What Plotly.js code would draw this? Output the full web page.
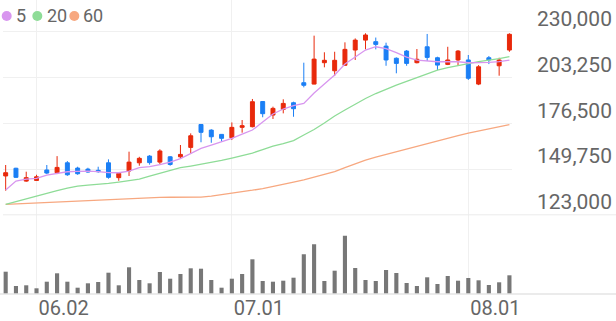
<!DOCTYPE html>
<html>
<head>
<meta charset="utf-8">
<script src="https://cdn.plot.ly/plotly-3.0.1.min.js"></script>
<style>html,body{margin:0;padding:0;background:#fff;}#chart{width:616px;height:321px;}</style>
</head>
<body>
<div id="chart"></div>
<script>
const dates = ['05.28','05.29','05.30','06.02','06.04','06.05','06.09','06.10','06.11','06.12',
  '06.13','06.16','06.17','06.18','06.19','06.20','06.23','06.24','06.25','06.26',
  '06.27','06.30','07.01','07.02','07.03','07.04','07.07','07.08','07.09','07.10',
  '07.11','07.14','07.15','07.16','07.17','07.18','07.21','07.22','07.23','07.24',
  '07.25','07.28','07.29','07.30','07.31','08.01','08.04','08.05','08.06','08.07'];

const openP = [145700,150200,142700,143100,149200,147600,153400,150300,149700,149000,
  153400,144700,148600,153400,157300,153800,156900,156900,162400,175800,
  172500,170000,168000,174100,174500,189200,181300,184600,188500,200200,
  199400,211900,207200,210400,219300,225100,224200,221600,214500,218700,
  211900,221200,214800,210900,213500,213500,199400,214800,210100,219300];
const highP = [152100,150500,148200,146400,152100,157300,154400,151100,150500,151100,
  155400,148000,159900,156900,157900,161300,157300,163800,170600,175900,
  173000,170200,177000,178400,190700,189500,186200,190500,189100,211900,
  227700,218000,218300,223800,226100,229100,226600,223600,215000,219300,
  219900,228700,215400,221200,219300,216400,210500,215800,214800,229100];
const lowP = [137100,144500,142300,142900,146800,146800,145800,146400,147600,147600,
  144100,142900,145700,151700,152300,152700,151700,156000,158500,165400,
  165100,165700,166700,171000,174100,180000,179000,182300,180300,197500,
  199300,209200,204100,210000,213500,219700,219700,210100,205700,210100,
  211500,212900,207600,210500,210100,201800,198800,211100,204300,218300];
const closeP = [147600,144900,144700,145200,147400,150700,146400,147000,148000,148200,
  144900,147200,153800,156000,153500,160300,152400,158300,169200,171200,
  168600,167700,174100,175100,189100,182100,185200,188100,185000,198700,
  214000,213300,213300,219700,225100,228100,222600,213500,211500,211500,
  213900,215000,210500,213500,218700,202800,209500,213500,213500,228500];

const ma5 = [137470,142730,143900,144310,146240,147410,148170,148400,148580,148290,
  147700,147590,148580,150620,151210,152380,153840,155890,158810,161850,
  163780,165530,167690,170210,172540,177220,181900,184820,186860,188150,
  194170,199430,204690,211120,215210,219300,221230,220180,217840,215210,
  213460,212870,212470,212470,212470,211880,211880,212110,212580,213460];
const ma20 = [129120,130750,132510,134260,135720,137180,138640,139810,140400,140810,
  141390,142150,143030,143900,145660,147410,149160,150510,151500,152500,
  153550,154830,156180,157640,159100,161150,163190,164650,166410,169620,
  172840,176640,180730,184230,187740,190960,193880,196510,198850,201010,
  203230,205570,207610,209070,210360,211410,212580,213460,214220,215500];
const ma60 = [129120,129410,129700,129990,130280,130580,130870,131160,131450,131750,
  132040,132330,132560,132800,133030,133210,133270,133270,133270,133380,
  133970,134730,135430,136360,137360,138350,139460,140750,142090,143440,
  144960,146420,148290,150620,152960,155010,156650,158280,159800,161440,
  163020,164710,166410,167870,169330,170790,171960,173240,174470,175700];

const volume = [223000,80000,87000,57000,123000,207000,123000,63000,107000,120000,
  213000,87000,267000,140000,107000,220000,153000,200000,257000,253000,
  140000,63000,153000,200000,347000,130000,123000,133000,163000,397000,
  497000,130000,233000,583000,260000,140000,130000,240000,210000,110000,
  80000,167000,100000,180000,133000,160000,137000,90000,117000,187000];

const priceTicks = [230000,203250,176500,149750,123000];
const dateTicks = ['06.02','07.01','08.01'];
const maNames = ['5','20','60'];
const maColors = ['#d896ef','#8edc97','#f7a880'];

const upColor = '#e8290b';
const downColor = '#1b7ff5';

const traces = [
  {
    type: 'bar', x: dates, y: volume, xaxis: 'x', yaxis: 'y2',
    marker: {color: '#777777', line: {width: 0}}, width: 0.4, hoverinfo: 'skip'
  },
  {
    type: 'candlestick', x: dates, open: openP, high: highP, low: lowP, close: closeP,
    xaxis: 'x', yaxis: 'y',
    increasing: {line: {color: upColor, width: 1}, fillcolor: upColor},
    decreasing: {line: {color: downColor, width: 1}, fillcolor: downColor},
    whiskerwidth: 0, hoverinfo: 'skip'
  }
];
[ma60, ma20, ma5].forEach((arr, k) => {
  const idx = 2 - k;
  traces.push({type: 'scatter', mode: 'lines', x: dates, y: arr, xaxis: 'x', yaxis: 'y',
    line: {color: maColors[idx], width: 1.3}, hoverinfo: 'skip'});
});

// layout geometry helpers (pixel -> paper)
const W = 616, H = 321, mL = 3, mR = 104, mT = 0, mB = 27;
const pw = W - mL - mR, ph = H - mT - mB;
const px = v => (v - mL) / pw;
const py = v => (ph - (v - mT)) / ph;
const split = py(214.8);

const shapes = [
  {type: 'line', xref: 'paper', yref: 'paper', x0: px(3), x1: px(616), y0: split, y1: split,
   line: {color: '#ebebeb', width: 1}},
  {type: 'line', xref: 'paper', yref: 'paper', x0: px(0), x1: px(616), y0: py(294), y1: py(294),
   line: {color: '#e4e4e4', width: 1.5}}
];
const annotations = [];
const legendDots = [[1.7, 11.7], [32.3, 42.3], [69.3, 79.3]];
const legendText = [16, 46.7, 83.3];
maNames.forEach((n, i) => {
  shapes.push({type: 'circle', xref: 'paper', yref: 'paper',
    x0: px(legendDots[i][0]), x1: px(legendDots[i][1]), y0: py(21), y1: py(11),
    fillcolor: maColors[i], line: {width: 0}});
  annotations.push({xref: 'paper', yref: 'paper', x: px(legendText[i] - 2), y: py(16),
    xanchor: 'left', yanchor: 'middle', text: n, showarrow: false,
    font: {family: 'Roboto', size: 18, color: '#666'}});
});

const layout = {
  width: W, height: H,
  margin: {l: mL, r: mR, t: mT, b: mB, pad: 0},
  paper_bgcolor: '#fff', plot_bgcolor: '#fff',
  showlegend: false, hovermode: false, boxgap: 0.45,
  font: {family: 'Roboto', color: '#666'},
  xaxis: {
    type: 'category', anchor: 'y2', range: [-0.26, 49.25],
    tickmode: 'array', tickvals: dateTicks, ticktext: dateTicks,
    showgrid: true, gridcolor: '#f0f0f0', gridwidth: 1,
    showline: false, zeroline: false, ticks: '',
    tickfont: {family: 'Roboto', size: 20, color: '#666'},
    ticklabelshift: 27, ticklabelstandoff: 0,
    rangeslider: {visible: false}, fixedrange: true
  },
  yaxis: {
    domain: [split, 1], range: [123000, 123000 + (214.8 - mT) * 584.5],
    side: 'right', anchor: 'x',
    tickmode: 'array', tickvals: priceTicks, tickformat: ',d',
    showgrid: true, gridcolor: '#f0f0f0', gridwidth: 1,
    zeroline: false, showline: false, ticks: '',
    tickfont: {family: 'Roboto', size: 21, color: '#666'},
    ticklabelshift: -13, ticklabelstandoff: 24, fixedrange: true
  },
  yaxis2: {
    domain: [0, split], range: [0, 792000], anchor: 'x',
    showgrid: false, zeroline: false, showticklabels: false, showline: false, ticks: '',
    fixedrange: true
  },
  shapes: shapes,
  annotations: annotations
};

Plotly.newPlot('chart', traces, layout, {staticPlot: true, displayModeBar: false});
</script>
</body>
</html>
